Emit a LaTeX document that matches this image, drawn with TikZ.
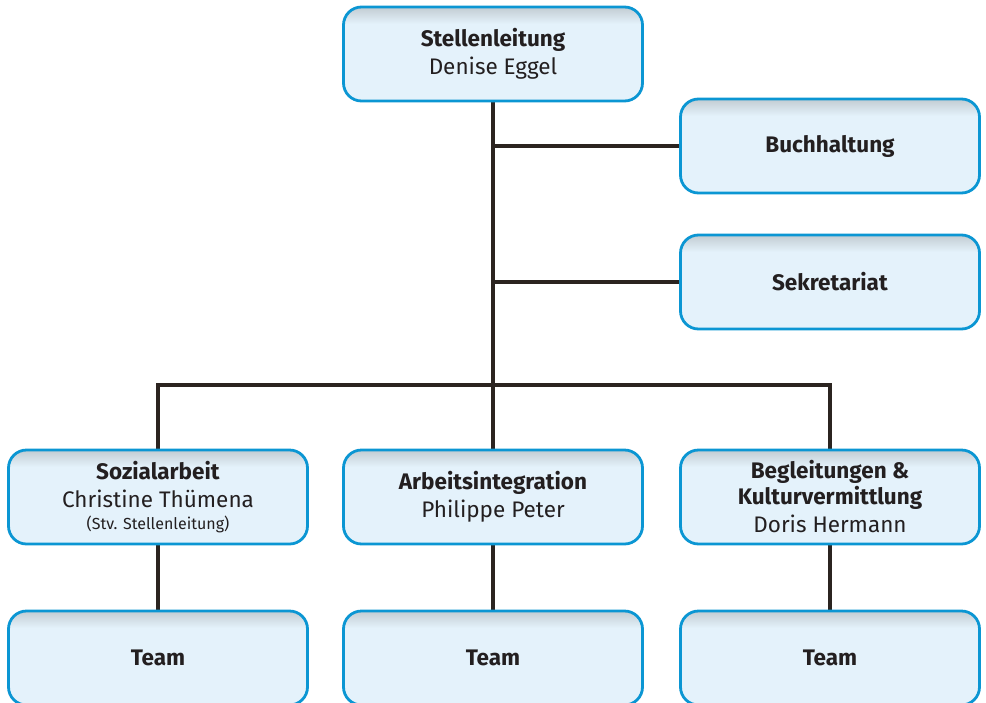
\documentclass[tikz,border=0pt]{standalone}
\usepackage{fontspec}
\setmainfont{Fira Sans}
\usetikzlibrary{positioning,backgrounds}

\definecolor{boxblue}{HTML}{0B96D3}
\definecolor{boxfill}{HTML}{E4F2FB}
\definecolor{boxtop}{HTML}{C2CCD2}
\definecolor{ink}{HTML}{231F20}
\definecolor{linecol}{HTML}{2B2420}

\pgfdeclareverticalshading{boxshade}{100bp}{color(0bp)=(boxfill); color(66bp)=(boxfill); color(75bp)=(boxtop); color(100bp)=(boxtop)}

\tikzset{
  orgbox/.style={draw=boxblue, line width=2.8pt, rounded corners=18pt, shading=boxshade,
    minimum width=299pt, minimum height=94pt, inner sep=0pt, align=center, text=ink,
    font=\fontsize{22.5}{28.5}\selectfont},
  link/.style={draw=linecol, line width=4pt}
}

\begin{document}
\begin{tikzpicture}[x=1pt,y=-1pt]
      \useasboundingbox (0,0) rectangle (986,702);
      % boxes
      \node[orgbox] (lead) at (493,54) {\textbf{Stellenleitung}\\Denise Eggel};
      \node[orgbox] (buch) at (830,146) {\textbf{Buchhaltung}};
      \node[orgbox] (sek) at (830,282) {\textbf{Sekretariat}};
      \node[orgbox] (soz) at (158,497) {\textbf{Sozialarbeit}\\Christine Thümena\\[-7pt]{\fontsize{16}{20}\selectfont(Stv. Stellenleitung)}};
      \node[orgbox] (arb) at (493,497) {\textbf{Arbeitsintegration}\\Philippe Peter};
      \node[orgbox] (beg) at (830,497) {\textbf{Begleitungen \&}\\[-3pt]\textbf{Kulturvermittlung}\\Doris Hermann};
      \node[orgbox] (team1) at (158,658) {\textbf{Team}};
      \node[orgbox] (team2) at (493,658) {\textbf{Team}};
      \node[orgbox] (team3) at (830,658) {\textbf{Team}};
      \coordinate (bus) at (493,385);
      % connectors
      \begin{scope}[on background layer]
      \draw[link] (lead.south) -- (arb.north);
      \draw[link] (lead.south |- buch) -- (buch.west);
      \draw[link] (lead.south |- sek) -- (sek.west);
      \draw[link] (soz.north) |- (bus) -| (beg.north);
      \draw[link] (soz.south) -- (team1.north);
      \draw[link] (arb.south) -- (team2.north);
      \draw[link] (beg.south) -- (team3.north);
      \end{scope}
    \end{tikzpicture}
\end{document}
